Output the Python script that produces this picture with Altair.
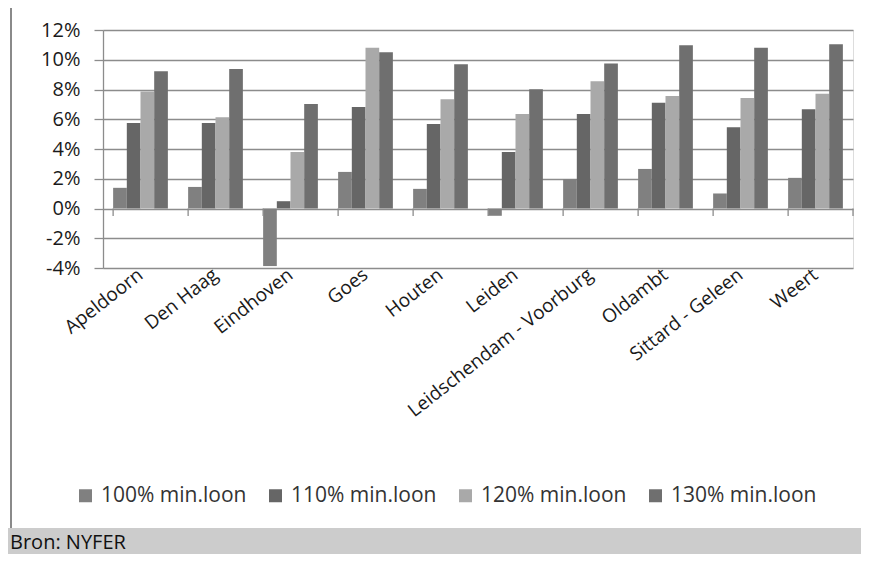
import altair as alt
import pandas as pd

cities = ["Apeldoorn", "Den Haag", "Eindhoven", "Goes", "Houten", "Leiden",
          "Leidschendam - Voorburg", "Oldambt", "Sittard - Geleen", "Weert"]
series = ["100% min.loon", "110% min.loon", "120% min.loon", "130% min.loon"]
colors = ["#808080", "#666666", "#a9a9a9", "#6f6f6f"]

v100 = [1.39, 1.45, -3.87, 2.46, 1.32, -0.49, 1.97, 2.66, 1.01, 2.06]
v110 = [5.75, 5.75, 0.49, 6.82, 5.68, 3.80, 6.35, 7.11, 5.46, 6.67]
v120 = [7.87, 6.13, 3.80, 10.80, 7.34, 6.35, 8.55, 7.56, 7.43, 7.72]
v130 = [9.22, 9.37, 7.02, 10.51, 9.69, 8.01, 9.75, 10.98, 10.81, 11.05]

y_ticks = [-4, -2, 0, 2, 4, 6, 8, 10, 12]
source_text = "Bron: NYFER"

rows = []
for s, vals in zip(series, [v100, v110, v120, v130]):
    for c, v in zip(cities, vals):
        rows.append({"city": c, "series": s, "value": v})
df = pd.DataFrame(rows)

FONT = "Open Sans"
GRID = "#8c8c8c"

xscale = alt.Scale(domain=cities, paddingInner=0.27, paddingOuter=0.135)
yscale = alt.Scale(domain=[-4, 12], nice=False, zero=False)

xaxis = alt.Axis(title=None, labelAngle=-38, labelFont=FONT, labelFontSize=19,
                 labelColor="#1a1a1a", ticks=False, domain=False, grid=False,
                 labelPadding=4, labelBaseline="middle", labelAlign="right",
                 labelLimit=400)
yaxis = alt.Axis(title=None, values=y_ticks, tickCount=9, labelExpr="datum.value + '%'",
                 labelFont=FONT, labelFontSize=20, labelColor="#1a1a1a", labelOverlap=False,
                 gridColor=GRID, gridWidth=1.3, domainColor=GRID, domainWidth=1.3,
                 tickColor=GRID, tickSize=9, tickWidth=1.3, labelPadding=14)

bars = alt.Chart(df).mark_bar().encode(
    x=alt.X("city:N", sort=cities, scale=xscale, axis=xaxis),
    xOffset=alt.XOffset("series:N", sort=series, scale=alt.Scale(paddingInner=0, paddingOuter=0)),
    y=alt.Y("value:Q", scale=yscale, axis=yaxis),
    color=alt.Color("series:N", sort=series,
                    scale=alt.Scale(domain=series, range=colors),
                    legend=alt.Legend(title=None, orient="none", legendX=-28, legendY=455,
                                      direction="horizontal", columns=4, symbolType="square",
                                      symbolSize=169, symbolStrokeWidth=0, labelFont=FONT,
                                      labelFontSize=21, labelColor="#333333", labelOffset=5,
                                      columnPadding=18, labelLimit=300)),
)

tick_df = pd.DataFrame({"city": cities})
ticks = alt.Chart(tick_df).mark_rule(color=GRID, strokeWidth=1.3).encode(
    x=alt.X("city:N", sort=cities, scale=xscale, bandPosition=0, axis=xaxis),
    y=alt.YDatum(0, scale=yscale, axis=yaxis),
    y2=alt.datum(-0.5),
)
end_tick = alt.Chart(pd.DataFrame({"k": [1]})).mark_rule(color=GRID, strokeWidth=1.3).encode(
    x=alt.value(750),
    y=alt.YDatum(0, scale=yscale, axis=yaxis),
    y2=alt.datum(-0.5),
)

one = pd.DataFrame({"t": [source_text]})
band = alt.Chart(one).mark_rect(color="#cccccc").encode(
    x=alt.value(-95), x2=alt.value(760), y=alt.value(498), y2=alt.value(526),
)
src = alt.Chart(one).mark_text(align="left", baseline="alphabetic", font=FONT,
                               fontSize=20, color="#111111").encode(
    text="t:N", x=alt.value(-93), y=alt.value(519),
)
border = alt.Chart(one).mark_rule(color="#8a8a8a", strokeWidth=2).encode(
    x=alt.value(-92), y=alt.value(-22), y2=alt.value(498),
)

chart = alt.layer(bars, ticks, end_tick, band, src, border).properties(
    width=750, height=238,
    autosize=alt.AutoSizeParams(type="none"),
    padding={"left": 95, "top": 22, "right": 8, "bottom": 286},
).configure_view(strokeWidth=0).configure(background="white")

chart.save("out.html", embed_options={"renderer": "svg", "actions": False})
